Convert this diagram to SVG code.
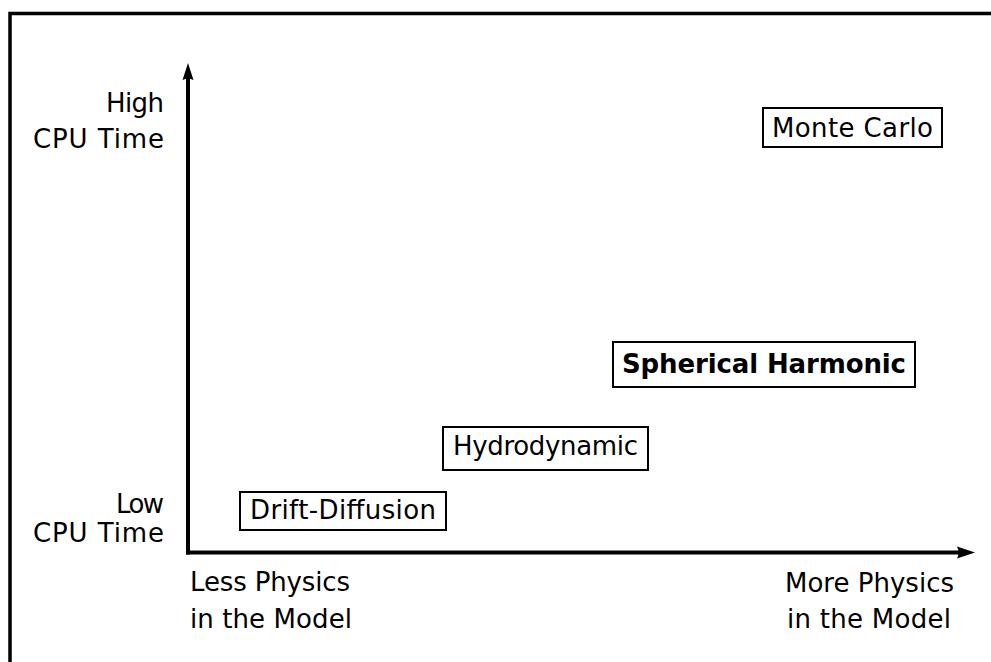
<svg xmlns="http://www.w3.org/2000/svg" width="991" height="662" viewBox="0 0 991 662">
  <style>
    text { font-family: "DejaVu Sans", "Liberation Sans", sans-serif; font-size: 26px; fill: #000; }
    .bold { font-weight: bold; }
    .box { fill: #fff; stroke: #000; stroke-width: 2; }
    .axis { stroke: #000; stroke-width: 4; fill: none; }
    .frame { fill: none; stroke: #000; stroke-width: 3.5; }
  </style>
  <rect x="0" y="0" width="991" height="662" fill="#fff"/>
  <!-- outer frame, running off the right and bottom edges -->
  <rect class="frame" x="10" y="13.5" width="1000" height="700"/>

  <g id="connectors">
    <!-- vertical axis: CPU time -->
    <line class="axis" x1="188" y1="554.5" x2="188" y2="74"/>
    <path d="M188,63 L193.5,80 Q188,77 182.5,80 Z" fill="#000"/>
    <!-- horizontal axis: physics in the model -->
    <line class="axis" x1="186" y1="552.5" x2="964" y2="552.5"/>
    <path d="M975,552.5 L957,546.5 Q960,552.5 957,558.5 Z" fill="#000"/>
  </g>

  <g id="y-labels">
    <text x="164" y="112" text-anchor="end" textLength="58">High</text>
    <text x="164" y="148" text-anchor="end" textLength="131">CPU Time</text>
    <text x="164" y="513" text-anchor="end" textLength="48">Low</text>
    <text x="164" y="542" text-anchor="end" textLength="131">CPU Time</text>
  </g>

  <g id="x-labels">
    <text x="190" y="591" textLength="160">Less Physics</text>
    <text x="190" y="628" textLength="162">in the Model</text>
    <text x="785" y="592" textLength="169">More Physics</text>
    <text x="787" y="628" textLength="164">in the Model</text>
  </g>

  <g id="monte-carlo">
    <rect class="box" x="763" y="108" width="179" height="39"/>
    <text x="772" y="137" textLength="161">Monte Carlo</text>
  </g>

  <g id="spherical-harmonic">
    <rect class="box" x="613" y="342" width="302" height="45"/>
    <text class="bold" x="622" y="373" textLength="284">Spherical Harmonic</text>
  </g>

  <g id="hydrodynamic">
    <rect class="box" x="443" y="427" width="205" height="43"/>
    <text x="453" y="455" textLength="185">Hydrodynamic</text>
  </g>

  <g id="drift-diffusion">
    <rect class="box" x="240" y="492" width="206" height="38"/>
    <text x="250" y="519" textLength="186">Drift-Diffusion</text>
  </g>
</svg>
